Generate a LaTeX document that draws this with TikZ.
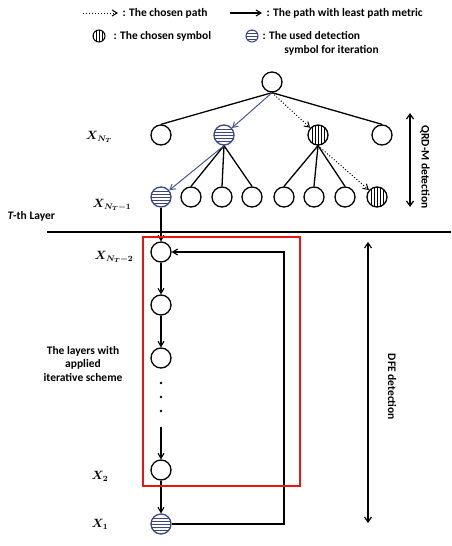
\documentclass[tikz,border=0pt]{standalone}
\usepackage{fontspec}
\setmainfont{Carlito}
\usepackage{bm}
\usetikzlibrary{arrows.meta}

\definecolor{stripeblue}{RGB}{60,70,130}
\definecolor{pathblue}{RGB}{75,88,140}
\definecolor{boxred}{RGB}{235,20,20}

\tikzset{
  sym/.style={circle, draw, line width=1.3pt, minimum size=20pt, inner sep=0pt},
  hsym/.style={sym, draw=stripeblue, path picture={
      \foreach \d in {-6,-3,...,6}
        \draw[stripeblue, line width=0.7pt]
          ([yshift=\d pt]path picture bounding box.west) -- ([yshift=\d pt]path picture bounding box.east);}},
  vsym/.style={sym, path picture={
      \foreach \d in {-6,-3,...,6}
        \draw[line width=0.7pt]
          ([xshift=\d pt]path picture bounding box.north) -- ([xshift=\d pt]path picture bounding box.south);}},
  edge/.style={line width=1.3pt},
  best/.style={line width=1pt, pathblue, -{Straight Barb[length=5pt,width=6pt]}},
  chosen/.style={line width=1pt, dotted, -{Straight Barb[length=5pt,width=6pt]}},
  down/.style={line width=1.1pt, -{Straight Barb[length=5pt,width=6pt]}},
  lbl/.style={font=\bfseries\fontsize{11.5}{13.5}\selectfont},
  xlbl/.style={font=\large},
}

\begin{document}
\begin{tikzpicture}[x=1pt, y=-1pt]
  \useasboundingbox (0,0) rectangle (451,546);

  % Legend
  \coordinate (la) at (83,13);
  \coordinate (lb) at (118,13);
  \draw[chosen] (la) -- (lb);
  \node[lbl, anchor=west] (lt1) at (119,13) {: The chosen path};
  \coordinate (lc) at (230,13);
  \coordinate (ld) at (262,13);
  \draw[down] (lc) -- (ld);
  \node[lbl, anchor=west] (lt2) at (263,13) {: The path with least path metric};
  \node[vsym, minimum size=12pt, line width=1pt] (ls1) at (99,36) {};
  \node[lbl, anchor=west] (lt3) at (110,36) {: The chosen symbol};
  \node[hsym, minimum size=12pt, line width=1pt] (ls2) at (252,36) {};
  \node[lbl, anchor=north west, align=left] (lt4) at (259,28)
    {: The used detection\\\hspace{1.9em}symbol for iteration};

  % Tree
  \node[sym] (root) at (272,82) {};
  \node[sym]  (a1) at (161,135) {};
  \node[hsym] (a2) at (224,135) {};
  \node[vsym] (a3) at (318,135) {};
  \node[sym]  (a4) at (382,135) {};

  \node[hsym] (b1) at (161,197) {};
  \node[sym]  (b2) at (191,197) {};
  \node[sym]  (b3) at (222,197) {};
  \node[sym]  (b4) at (252,197) {};
  \node[sym]  (b5) at (284,197) {};
  \node[sym]  (b6) at (314,197) {};
  \node[sym]  (b7) at (345,197) {};
  \node[vsym] (b8) at (377,197) {};

  \draw[edge] (root.south) -- (a1.north);
  \draw[edge] (root.south) -- (a4.north);
  \draw[best] (root.south) -- (a2);
  \draw[chosen] (root.south) -- (a3);

  \foreach \c in {b2,b3,b4}
    \draw[edge] (a2.south) -- (\c.north);
  \draw[best] (a2.south) -- (b1);
  \foreach \c in {b5,b6,b7}
    \draw[edge] (a3.south) -- (\c.north);
  \draw[chosen] (a3.south) -- (b8);

  \node[xlbl] (lx1) at (99,137) {$\bm{X_{N_T}}$};
  \node[xlbl] (lx2) at (112,205) {$\bm{X_{N_T-1}}$};
  \node[lbl, anchor=west] (layer) at (4,216) {{\itshape T}-th Layer};

  % Layer boundary
  \coordinate (hl) at (47,232);
  \coordinate (hr) at (451,232);
  \draw[line width=1.8pt] (hl) -- (hr);

  % DFE chain
  \node[sym] (c1) at (161,252) {};
  \node[sym] (c2) at (161,305) {};
  \node[sym] (c3) at (161,358) {};
  \node[sym] (c4) at (161,470) {};
  \node[hsym] (c5) at (161,524) {};

  \draw[down] (b1) -- (c1);
  \draw[down] (c1) -- (c2);
  \draw[down] (c2) -- (c3);
  \foreach \y in {383,397,411}
    \fill (161,\y) circle (1.3pt);
  \coordinate (cs) at (161,427);
  \draw[down] (cs) -- (c4);
  \draw[down] (c4) -- (c5);

  % Feedback
  \coordinate (fb) at (284,524);
  \draw[down] (c5) -- (fb) |- (c1);

  \node[xlbl] (lx3) at (114,257) {$\bm{X_{N_T-2}}$};
  \node[xlbl] (lx4) at (100,476) {$\bm{X_2}$};
  \node[xlbl] (lx5) at (100,524) {$\bm{X_1}$};
  \node[lbl, align=center] (iter) at (83,364)
    {The layers with\\applied\\iterative scheme};

  % Iterative region
  \draw[boxred, line width=1.8pt] (143,237) rectangle (300,486);

  % Detection ranges
  \coordinate (qt) at (410,113);
  \coordinate (qb) at (410,207);
  \draw[line width=1.2pt, {Straight Barb[length=5pt,width=7pt]}-{Straight Barb[length=5pt,width=7pt]}] (qt) -- (qb);
  \node[lbl, rotate=-90] (qrd) at (425,167) {QRD-M detection};
  \coordinate (dt) at (368,242);
  \coordinate (db) at (368,523);
  \draw[line width=1.2pt, {Straight Barb[length=5pt,width=7pt]}-{Straight Barb[length=5pt,width=7pt]}] (dt) -- (db);
  \node[lbl, rotate=-90] (dfe) at (392,387) {DFE detection};

\end{tikzpicture}
\end{document}
